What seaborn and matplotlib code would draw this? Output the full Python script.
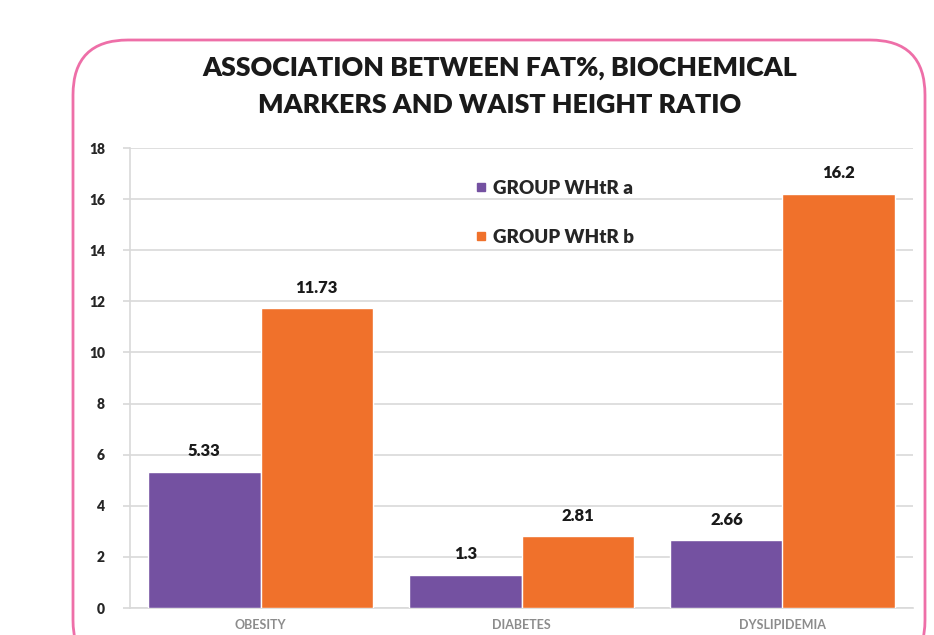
import matplotlib
matplotlib.use("Agg")
import matplotlib.pyplot as plt
from matplotlib.patches import FancyBboxPatch
from matplotlib.transforms import IdentityTransform
from matplotlib.lines import Line2D
import seaborn as sns
import pandas as pd

# Chart data
categories = ["OBESITY", "DIABETES", "DYSLIPIDEMIA"]
groups = ["GROUP WHtR a", "GROUP WHtR b"]
values_a = [5.33, 1.3, 2.66]
values_b = [11.73, 2.81, 16.2]
y_ticks = [0, 2, 4, 6, 8, 10, 12, 14, 16, 18]

colors = ["#7451A1", "#F0712B"]
border_color = "#EE6FA8"
text_color = "#1a1a1a"

df = pd.DataFrame({
    "category": categories * 2,
    "group": [groups[0]] * len(categories) + [groups[1]] * len(categories),
    "value": values_a + values_b,
})

sns.set_theme(style="white")
plt.rcParams["font.family"] = ["Lato", "DejaVu Sans"]

W, H = 934, 635
fig = plt.figure(figsize=(W / 100, H / 100), dpi=100)
fig.patch.set_facecolor("white")

# Rounded pink frame around the chart (pixel coordinates)
frame = FancyBboxPatch((73, -40), 852, 635,
                       boxstyle="round,pad=0,rounding_size=55",
                       transform=IdentityTransform(), fill=False,
                       edgecolor=border_color, linewidth=2.0, zorder=0)
fig.patches.append(frame)

ax = fig.add_axes([130 / W, 1 - 608 / H, (913 - 130) / W, (608 - 148) / H])
sns.barplot(data=df, x="category", y="value", hue="group", order=categories,
            hue_order=groups, palette=colors, saturation=1, width=0.86,
            gap=0, ax=ax, zorder=3)

ax.set_ylim(0, 18)
ax.set_xlim(-0.5, 2.5)
ax.set_yticks(y_ticks)
ax.set_yticklabels([str(t) for t in y_ticks], fontsize=10, fontweight="heavy",
                   color="#262626")
ax.set_xlabel("")
ax.set_ylabel("")
ax.tick_params(axis="x", pad=8, length=0, labelsize=9, labelcolor="#8c8c8c")
ax.tick_params(axis="y", pad=13, length=5, color="#d9d9d9", left=True)
for lbl in ax.get_xticklabels():
    lbl.set_fontweight("bold")
ax.grid(axis="y", color="#d9d9d9", linewidth=1.2, zorder=0)
ax.set_axisbelow(True)
for side in ["top", "right"]:
    ax.spines[side].set_visible(False)
for side in ["left", "bottom"]:
    ax.spines[side].set_color("#d9d9d9")
    ax.spines[side].set_linewidth(1.2)

# Value labels above bars
for cont in ax.containers:
    vals = [b.get_height() for b in cont]
    ax.bar_label(cont, labels=[f"{v:g}" for v in vals], padding=9,
                 fontsize=12, fontweight="heavy", color=text_color)

# Legend
handles = [Line2D([0], [0], marker="s", linestyle="", markersize=6,
                  markerfacecolor=c, markeredgecolor=c) for c in colors]
ax.legend(handles, groups, loc="upper left",
          bbox_to_anchor=(458 / W, 1 - 163 / H), bbox_transform=fig.transFigure,
          frameon=False, handlelength=0.6, handletextpad=0.35,
          labelspacing=1.7, prop={"weight": "heavy", "size": 13.5})

# Title
title_lines = ["ASSOCIATION BETWEEN FAT%, BIOCHEMICAL",
               "MARKERS AND WAIST HEIGHT RATIO"]
for line, ypix in zip(title_lines, [68, 105]):
    fig.text(500 / W, 1 - ypix / H, line, ha="center", va="center",
             fontsize=19.3, fontweight="heavy", color=text_color)

fig.savefig("out.png", dpi=100, facecolor="white")
